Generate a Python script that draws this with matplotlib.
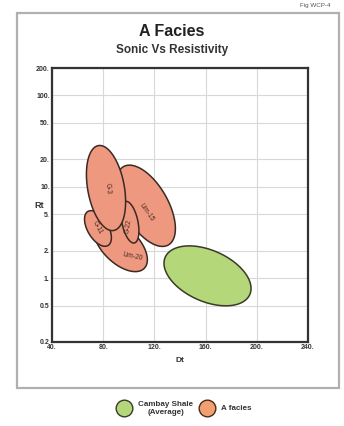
import numpy as np
import matplotlib
matplotlib.use('Agg')
import matplotlib.pyplot as plt
from matplotlib.lines import Line2D
from matplotlib.patches import Rectangle

plt.rcParams['font.family'] = ['Liberation Sans', 'DejaVu Sans']

# facies ellipses: centre Dt, centre Rt, Dt half-range, log10(Rt) half-range, tilt (correlation)
names = ['Lim-20', 'G-11', 'Lim-15', 'G-22', 'G-3']
dt_mid = [93.5, 75.9, 113.4, 100.9, 82.2]
rt_mid = [2.3, 3.5, 6.2, 4.1, 9.7]
dt_half = [21.0, 10.5, 23.0, 7.0, 15.3]
logrt_half = [0.29, 0.195, 0.445, 0.228, 0.466]
tilt = [-0.55, -0.52, -0.56, -0.42, -0.32]
lbl_dt = [103.3, 75.4, 114.2, 99.4, 83.8]
lbl_rt = [1.7, 3.6, 5.3, 3.7, 9.7]
lbl_rot = [-12, -62, -55, 80, -85]

# Cambay shale (average)
shale_dt, shale_rt, shale_dt_half, shale_logrt_half, shale_tilt = 161.5, 1.06, 34.0, 0.328, -0.42

xticks = [40, 80, 120, 160, 200, 240]
xlabels = ['40.', '80.', '120.', '160.', '200.', '240.']
yticks = [0.2, 0.5, 1, 2, 5, 10, 20, 50, 100, 200]
ylabels = ['0.2', '0.5', '1.', '2.', '5.', '10.', '20.', '50.', '100.', '200.']

orange = '#EE9880'
green = '#B4D77A'
edge = '#3b2a24'


def ellipse_xy(cx, cy, sx, sy, rho, n=240):
    t = np.linspace(0, 2 * np.pi, n)
    x = cx + sx * np.cos(t)
    ly = np.log10(cy) + sy * (rho * np.cos(t) + np.sqrt(1 - rho ** 2) * np.sin(t))
    return x, 10 ** ly


fig = plt.figure(figsize=(3.44, 4.26), dpi=100)
fig.add_artist(Rectangle((17 / 344, 1 - 388 / 426), 322 / 344, 375 / 426,
                         transform=fig.transFigure, fill=False,
                         edgecolor='#b0b0b0', linewidth=1.6))

ax = fig.add_axes([52 / 344, 1 - 342 / 426, 256 / 344, 274 / 426])
ax.set_yscale('log')
ax.set_xlim(40, 240)
ax.set_ylim(0.2, 200)
ax.set_xticks(xticks)
ax.set_xticklabels(xlabels)
ax.set_yticks(yticks)
ax.set_yticklabels(ylabels)
ax.yaxis.set_minor_locator(matplotlib.ticker.NullLocator())
ax.tick_params(length=0, labelsize=5, pad=1.5, colors='#333333')
for t in ax.get_xticklabels() + ax.get_yticklabels():
    t.set_fontweight('bold')
ax.grid(True, color='#d8d8d8', linewidth=0.8)
ax.set_axisbelow(True)
for s in ax.spines.values():
    s.set_linewidth(1.6)
    s.set_color('#333333')

x, y = ellipse_xy(shale_dt, shale_rt, shale_dt_half, shale_logrt_half, shale_tilt)
ax.fill(x, y, facecolor=green, edgecolor='#3a3a28', linewidth=1.1, zorder=3)

for i in range(len(names)):
    x, y = ellipse_xy(dt_mid[i], rt_mid[i], dt_half[i], logrt_half[i], tilt[i])
    ax.fill(x, y, facecolor=orange, edgecolor=edge, linewidth=1.1, zorder=4 + i)
    ax.text(lbl_dt[i], lbl_rt[i], names[i], fontsize=4.8, color='#4a2a22',
            rotation=lbl_rot[i], ha='center', va='center', zorder=4 + i)

ax.set_xlabel('Dt', fontsize=6, fontweight='bold', color='#333333', labelpad=4)
ax.set_ylabel('Rt', fontsize=6.5, fontweight='bold', color='#333333',
              rotation=0, labelpad=6)
ax.yaxis.set_label_coords(-0.05, 0.48)

fig.text(0.5, 1 - 31 / 426, 'A Facies', ha='center', va='center',
         fontsize=11.5, fontweight='bold', color='#222222')
fig.text(0.5, 1 - 50 / 426, 'Sonic Vs Resistivity', ha='center', va='center',
         fontsize=8.5, fontweight='bold', color='#333333')
fig.text(330 / 344, 1 - 6 / 426, 'Fig WCP-4', ha='right', va='center',
         fontsize=4.5, color='#555555')

handles = [Line2D([], [], linestyle='none', marker='o', markersize=12,
                  markerfacecolor=green, markeredgecolor='#3a3a28', markeredgewidth=1.0),
           Line2D([], [], linestyle='none', marker='o', markersize=12,
                  markerfacecolor='#F2A070', markeredgecolor='#4a2a1a', markeredgewidth=1.0)]
leg = fig.legend(handles, ['Cambay Shale\n(Average)', 'A facies'], ncol=2,
                 loc='center', bbox_to_anchor=(0.54, 1 - 408 / 426), frameon=False,
                 prop={'size': 5.8, 'weight': 'bold'}, handletextpad=1.3,
                 columnspacing=1.2, handlelength=1.0)
for t in leg.get_texts():
    t.set_multialignment('center')
    t.set_color('#333333')

fig.savefig('out.png', dpi=100)
